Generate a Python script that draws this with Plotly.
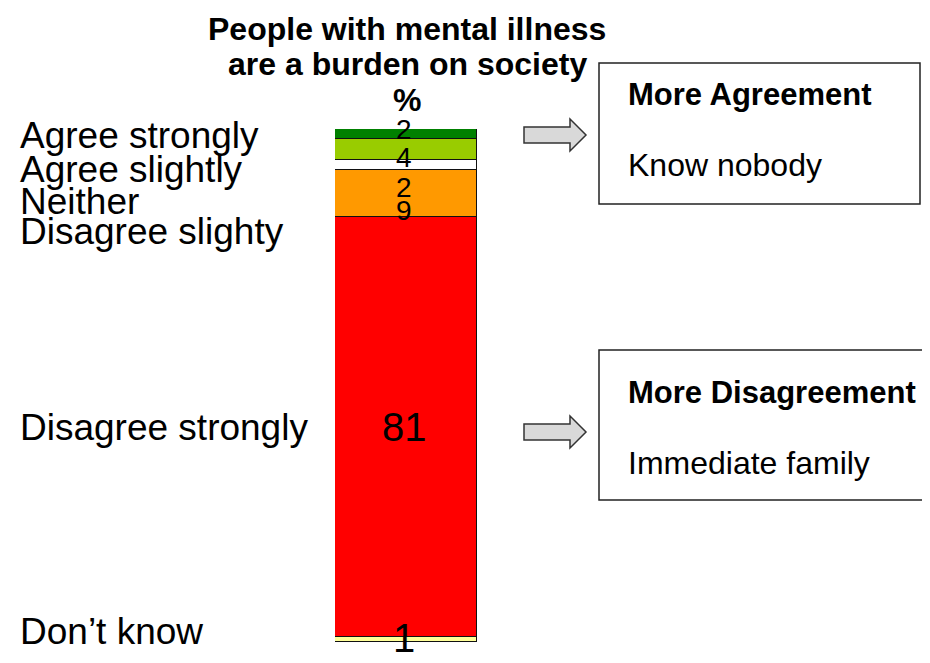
import plotly.graph_objects as go

# ---- data ----
categories = ["Don\u2019t know", "Disagree strongly", "Disagree slighty", "Neither", "Agree slightly", "Agree strongly"]
values = [1, 81, 9, 2, 4, 2]
colors = ["#FFFF99", "#FF0000", "#FF9900", "#FFFFFF", "#99CC00", "#008000"]
title_lines = ["People with mental illness", "are a burden on society", "%"]
box_titles = ["More Agreement", "More Disagreement"]
box_texts = ["Know nobody", "Immediate family"]

# ---- styling / layout helpers ----
OFF = 8                      # default page body margin
W, H = 930 - OFF, 663 - OFF
BAR_L, BAR_R = 335, 477      # pixel extent of the bar (screen coords)
TOP, BOT = 129, 642          # pixel extent of the bar vertically (screen coords)
FONT = "Liberation Sans, Arial, Helvetica, sans-serif"

def px(x):
    return (x - BAR_L) / (BAR_R - BAR_L)

def py(y):
    return (BOT - y) / (BOT - TOP)

label_font_sizes = [40, 40, 28, 28, 28, 28]
label_yshift = [1, 0, -17, -22, -8, 5]
side_label_y = [631, 427, 231, 201, 169, 135]

fig = go.Figure()
for cat, v, c in zip(categories, values, colors):
    fig.add_trace(go.Bar(
        x=[0], y=[v], name=cat, width=1,
        marker=dict(color=c, line=dict(color="#111111", width=1.5)),
        hoverinfo="skip",
    ))

annotations = []
cum = 0
for i, v in enumerate(values):
    mid = cum + v / 2
    cum += v
    annotations.append(dict(
        x=0, y=mid, xref="x", yref="y", text=str(v), showarrow=False,
        xshift=-2, yshift=label_yshift[i],
        font=dict(family=FONT, size=label_font_sizes[i], color="black"),
        xanchor="center", yanchor="middle",
    ))

for cat, yy in zip(categories, side_label_y):
    annotations.append(dict(
        x=px(18), y=py(yy), xref="paper", yref="paper", text=cat, showarrow=False,
        font=dict(family=FONT, size=37, color="black"),
        xanchor="left", yanchor="middle",
    ))

for t, yy in zip(title_lines, [29, 64, 100]):
    annotations.append(dict(
        x=px(407), y=py(yy), xref="paper", yref="paper", text="<b>%s</b>" % t,
        showarrow=False, font=dict(family=FONT, size=32, color="black"),
        xanchor="center", yanchor="middle",
    ))

for t, yy in zip(box_titles, [95, 392]):
    annotations.append(dict(
        x=px(626), y=py(yy), xref="paper", yref="paper", text="<b>%s</b>" % t,
        showarrow=False, font=dict(family=FONT, size=31, color="black"),
        xanchor="left", yanchor="middle",
    ))
for t, yy in zip(box_texts, [165, 463]):
    annotations.append(dict(
        x=px(626), y=py(yy), xref="paper", yref="paper", text=t,
        showarrow=False, font=dict(family=FONT, size=32, color="black"),
        xanchor="left", yanchor="middle",
    ))

shapes = []
for (x0, y0, x1, y1) in [(599, 63, 920, 204), (599, 350, 940, 500)]:
    shapes.append(dict(type="rect", xref="paper", yref="paper",
                       x0=px(x0), x1=px(x1), y0=py(y1), y1=py(y0),
                       line=dict(color="#222222", width=1.5), fillcolor="rgba(0,0,0,0)"))

def arrow_path(cy):
    pts = [(524, cy - 8), (570, cy - 8), (570, cy - 16), (586, cy),
           (570, cy + 16), (570, cy + 8), (524, cy + 8)]
    return "M " + " L ".join("%f,%f" % (px(a), py(b)) for a, b in pts) + " Z"

for cy in [135, 432]:
    shapes.append(dict(type="path", xref="paper", yref="paper", path=arrow_path(cy),
                       fillcolor="#D9D9D9", line=dict(color="#333333", width=1.5)))

fig.update_layout(
    width=W, height=H,
    margin=dict(l=BAR_L - OFF, r=(W + OFF) - BAR_R, t=TOP - OFF, b=(H + OFF) - BOT, pad=0),
    barmode="stack", bargap=0, showlegend=False,
    paper_bgcolor="white", plot_bgcolor="white",
    xaxis=dict(range=[-0.5, 0.5], visible=False, fixedrange=True),
    yaxis=dict(range=[0, sum(values)], visible=False, fixedrange=True),
    annotations=annotations, shapes=shapes,
    font=dict(family=FONT),
)

fig.write_html("out.html")
